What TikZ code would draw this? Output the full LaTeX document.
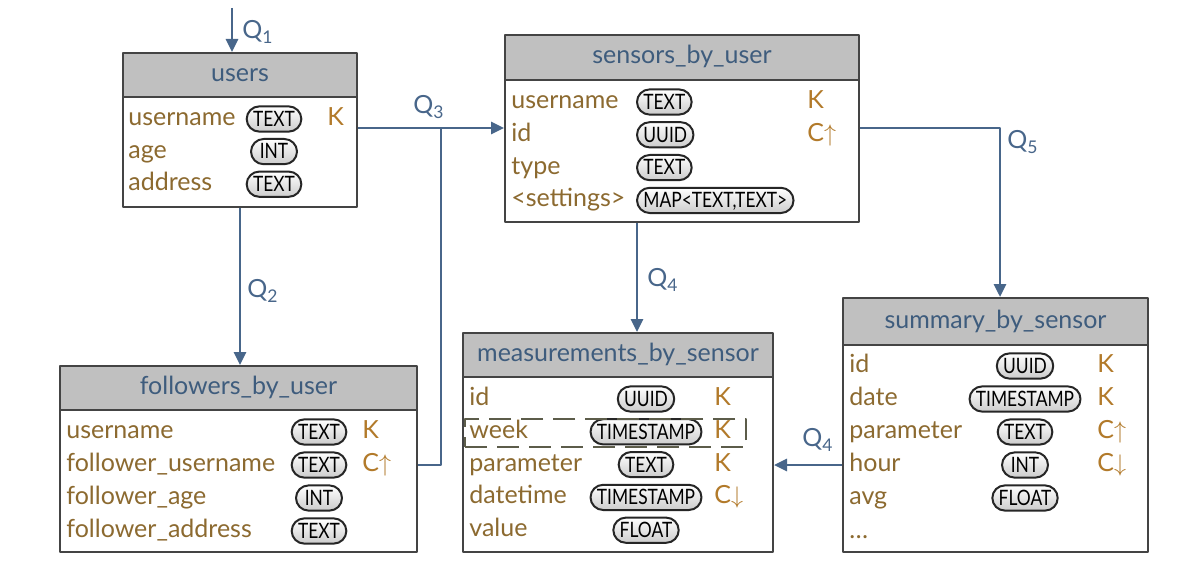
\documentclass[tikz,border=0pt]{standalone}
\usepackage{fontspec}
\setmainfont{Lato}
\newfontfamily\typefamily[FakeStretch=0.82]{Lato}
\usetikzlibrary{arrows.meta,shapes.misc,fit}
\definecolor{qblue}{RGB}{72,102,138}
\definecolor{titleblue}{RGB}{62,92,125}
\definecolor{fieldbrown}{RGB}{140,106,48}
\definecolor{keybrown}{RGB}{178,122,42}
\definecolor{headgray}{RGB}{192,192,192}
\definecolor{boxgray}{RGB}{68,68,68}
\definecolor{weekgray}{RGB}{92,92,74}
\newcommand\tablefont{\fontsize{12.5}{14}\selectfont}
\newcommand\typefont{\typefamily\fontsize{10.6}{12}\selectfont}
\tikzset{%
    thead/.style={draw=boxgray, line width=1pt, fill=headgray, inner sep=0pt},
    ttitle/.style={inner sep=0pt, text=titleblue, font=\tablefont,
        text height=9pt, text depth=2.5pt},
    tbody/.style={draw=boxgray, line width=1pt, fill=white, inner sep=0pt},
    fname/.style={anchor=west, inner sep=0pt, text=fieldbrown, font=\tablefont,
        text height=9pt, text depth=2.5pt},
    ftype/.style={rounded rectangle, draw=black!85, line width=1pt,
        top color=white, bottom color=black!20, inner xsep=2pt, inner ysep=2.6pt,
        minimum width=27pt, text height=7.4pt, text depth=0pt, font=\typefont},
    fkey/.style={anchor=west, inner sep=0pt, text=keybrown, font=\tablefont,
        text height=9pt, text depth=2.5pt},
}

\begin{document}
\begin{tikzpicture}[
        x=.5pt, y=-.5pt,
        line join=round,
        qarrow/.style={draw=qblue, line width=1.4pt, -{Triangle[length=6.5pt,width=6pt]}},
        qline/.style={draw=qblue, line width=1.4pt},
        qlabel/.style={text=qblue, font=\tablefont},
        weekbox/.style={draw=weekgray, line width=.9pt, dash pattern=on 11pt off 5pt, inner sep=0pt}
    ]
    \useasboundingbox (0,0) rectangle (1202,572);

    % users
    \node[tbody, fit={(123,97) (357,207)}] (users-b) {};
    \node[thead, fit={(123,53) (357,97)}] (users-h) {};
    \node[ttitle] (users-title) at (users-h) {users};
    \foreach \n/\t/\k [count=\i from 0] in {username/TEXT/K, age/INT/{}, address/TEXT/{}} {
        \node[fname] (users-n\i) at (128, {119+32.6*\i}) {\n};
        \node[ftype] (users-t\i) at (274, {119+32.6*\i}) {\t};
        \node[fkey] (users-k\i) at (327, {119+32.6*\i}) {\k};
    }

    % sensors_by_user
    \node[tbody, fit={(505,80) (859,222)}] (sensors-b) {};
    \node[thead, fit={(505,35) (859,80)}] (sensors-h) {};
    \node[ttitle] (sensors-title) at (sensors-h) {sensors\_by\_user};
    \foreach \n/\t/\k [count=\i from 0] in {username/TEXT/K, id/UUID/C$\uparrow$,
            type/TEXT/{}, <settings>/{MAP<TEXT,TEXT>}/{}} {
        \node[fname] (sensors-n\i) at (511, {102+32.8*\i}) {\n};
        \node[ftype, anchor=west] (sensors-t\i) at (636, {102+32.8*\i}) {\t};
        \node[fkey] (sensors-k\i) at (807, {102+32.8*\i}) {\k};
    }

    % followers_by_user
    \node[tbody, fit={(60,410) (417,552)}] (followers-b) {};
    \node[thead, fit={(60,366) (417,410)}] (followers-h) {};
    \node[ttitle] (followers-title) at (followers-h) {followers\_by\_user};
    \foreach \n/\t/\k [count=\i from 0] in {username/TEXT/K, follower\_username/TEXT/C$\uparrow$,
            follower\_age/INT/{}, follower\_address/TEXT/{}} {
        \node[fname] (followers-n\i) at (66, {432+33*\i}) {\n};
        \node[ftype] (followers-t\i) at (319, {432+33*\i}) {\t};
        \node[fkey] (followers-k\i) at (362, {432+33*\i}) {\k};
    }

    % measurements_by_sensor
    \node[tbody, fit={(463,377) (773,552)}] (meas-b) {};
    \node[thead, fit={(463,333) (773,377)}] (meas-h) {};
    \node[ttitle] (meas-title) at (meas-h) {measurements\_by\_sensor};
    \foreach \n/\t/\k [count=\i from 0] in {id/UUID/K, week/TIMESTAMP/K, parameter/TEXT/K,
            datetime/TIMESTAMP/C$\downarrow$, value/FLOAT/{}} {
        \node[fname] (meas-n\i) at (469, {399+32.8*\i}) {\n};
        \node[ftype] (meas-t\i) at (646, {399+32.8*\i}) {\t};
        \node[fkey] (meas-k\i) at (714, {399+32.8*\i}) {\k};
    }
    \node[weekbox, fit={(465,419) (746,447)}] (week-box) {};

    % summary_by_sensor
    \node[tbody, fit={(843,345) (1148,552)}] (summary-b) {};
    \node[thead, fit={(843,298) (1148,345)}] (summary-h) {};
    \node[ttitle] (summary-title) at (summary-h) {summary\_by\_sensor};
    \foreach \n/\t/\k [count=\i from 0] in {id/UUID/K, date/TIMESTAMP/K, parameter/TEXT/C$\uparrow$,
            hour/INT/C$\downarrow$, avg/FLOAT/{}} {
        \node[fname] (summary-n\i) at (849, {366+33*\i}) {\n};
        \node[ftype] (summary-t\i) at (1025, {366+33*\i}) {\t};
        \node[fkey] (summary-k\i) at (1097, {366+33*\i}) {\k};
    }
    \node[fname] (summary-n5) at (849, 532) {\dots};

    % queries
    \path (232,8) coordinate (q1-start)
        (441,128) coordinate (q3-join)
        (637,0) coordinate (q4-x);

    \draw[qarrow] (q1-start) -- (q1-start |- users-h.north);
    \node[qlabel] (q1) at (258,32) {Q\textsubscript{1}};

    \draw[qarrow] (users-b.south) -- (users-b.south |- followers-h.north);
    \node[qlabel] (q2) at (263,291) {Q\textsubscript{2}};

    \draw[qarrow] (users-b.east |- q3-join) -- (sensors-b.west |- q3-join);
    \draw[qline] (followers-b.east |- followers-n1) -| (q3-join);
    \node[qlabel] (q3) at (429,107) {Q\textsubscript{3}};

    \draw[qarrow] (sensors-b.south -| q4-x) -- (meas-h.north -| q4-x);
    \node[qlabel] (q4) at (663,280) {Q\textsubscript{4}};

    \draw[qarrow] (sensors-b.east |- q3-join) -| (summary-h.north -| 1000,0);
    \node[qlabel] (q5) at (1023,142) {Q\textsubscript{5}};

    \draw[qarrow] (summary-b.west |- summary-n3) -- (meas-b.east |- summary-n3);
    \node[qlabel] (q4-b) at (818,440) {Q\textsubscript{4}};
\end{tikzpicture}
\end{document}
